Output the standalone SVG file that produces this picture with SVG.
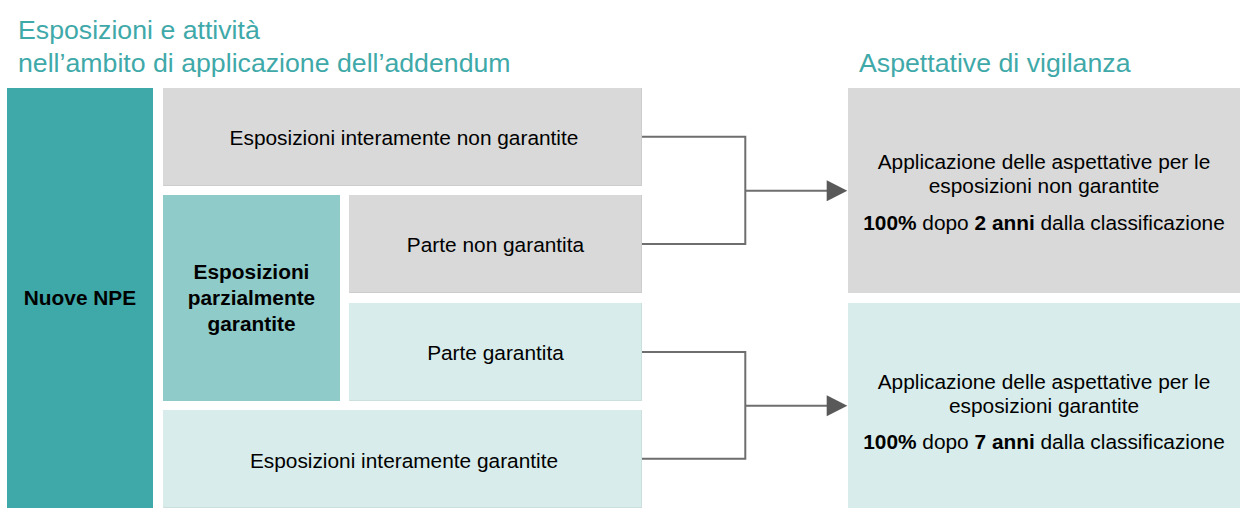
<svg xmlns="http://www.w3.org/2000/svg" width="1240" height="509" viewBox="0 0 1240 509">
<style>
text{font-family:"Liberation Sans",Arial,sans-serif;}
.title{font-size:26.7px;fill:#3fa9a9;}
.t{font-size:20.85px;fill:#000;text-anchor:middle;}
.b{font-weight:bold;}
.dark{fill:#3fa9a9;}
.mid{fill:#8fcbc9;}
.light{fill:#d8edeb;}
.gray{fill:#d9d9d9;}
.edge{fill:none;stroke:#000;stroke-opacity:0.06;stroke-width:1;}
.conn{fill:none;stroke:#6e6e6e;stroke-width:2;}
.head{fill:#595959;}
</style>
<rect width="1240" height="509" fill="#ffffff"/>
<g id="titles">
<text class="title" x="18" y="39">Esposizioni e attività</text>
<text class="title" x="18" y="72">nell’ambito di applicazione dell’addendum</text>
<text class="title" x="859" y="72">Aspettative di vigilanza</text>
</g>
<g id="nuove-npe">
<rect class="dark" x="7" y="88" width="146" height="420"/>
<text class="t b" x="80" y="305">Nuove NPE</text>
</g>
<g id="esposizioni-non-garantite">
<rect class="gray" x="163" y="88" width="479" height="98"/>
<path class="edge" d="M163.5,185.5H641.5V88"/>
<text class="t" x="404" y="144.5">Esposizioni interamente non garantite</text>
</g>
<g id="esposizioni-parzialmente-garantite">
<rect class="mid" x="163" y="195" width="177" height="206"/>
<text class="t b" x="251.5" y="279">Esposizioni</text>
<text class="t b" x="251.5" y="305">parzialmente</text>
<text class="t b" x="251.5" y="331">garantite</text>
</g>
<g id="parte-non-garantita">
<rect class="gray" x="349" y="195" width="293" height="98"/>
<path class="edge" d="M349.5,292.5H641.5V195"/>
<text class="t" x="495.5" y="252">Parte non garantita</text>
</g>
<g id="parte-garantita">
<rect class="light" x="349" y="303" width="293" height="98"/>
<path class="edge" d="M349.5,400.5H641.5V303"/>
<text class="t" x="495.5" y="359.5">Parte garantita</text>
</g>
<g id="esposizioni-garantite">
<rect class="light" x="163" y="410" width="479" height="98"/>
<path class="edge" d="M163.5,507.5H641.5V410"/>
<text class="t" x="404" y="467.5">Esposizioni interamente garantite</text>
</g>
<g id="aspettative-non-garantite">
<rect class="gray" x="848" y="88" width="392" height="205"/>
<text class="t" x="1044" y="169">Applicazione delle aspettative per le</text>
<text class="t" x="1044" y="193">esposizioni non garantite</text>
<text class="t" x="1044" y="230"><tspan class="b">100%</tspan> dopo <tspan class="b">2 anni</tspan> dalla classificazione</text>
</g>
<g id="aspettative-garantite">
<rect class="light" x="848" y="303" width="392" height="205"/>
<text class="t" x="1044" y="389">Applicazione delle aspettative per le</text>
<text class="t" x="1044" y="413">esposizioni garantite</text>
<text class="t" x="1044" y="449"><tspan class="b">100%</tspan> dopo <tspan class="b">7 anni</tspan> dalla classificazione</text>
</g>
<g id="connectors">
<path class="conn" d="M642,136.7H745.3V244H642"/>
<path class="conn" d="M745.3,190.7H828"/>
<polygon class="head" points="826.7,180.2 847.3,190.7 826.7,201.2"/>
<path class="conn" d="M642,352H745.3V458.7H642"/>
<path class="conn" d="M745.3,405.7H828"/>
<polygon class="head" points="826.7,395.2 847.3,405.7 826.7,416.2"/>
</g>
</svg>
